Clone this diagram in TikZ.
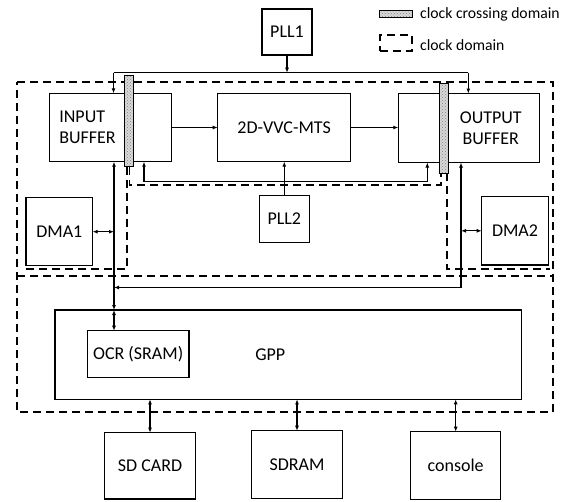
\documentclass[tikz,border=0pt]{standalone}
\usepackage{fontspec}
\setmainfont{Carlito}
\usetikzlibrary{arrows.meta,patterns}
\begin{document}
\begin{tikzpicture}[x=1pt,y=-1pt,
  txt/.style={font=\fontsize{18}{21}\selectfont},
  box/.style={draw, line width=1.2pt, inner sep=0pt, outer sep=0pt, txt},
  dom/.style={draw, line width=1.8pt, dash pattern=on 8pt off 5pt},
  conn/.style={line width=1.2pt},
  arr/.style={conn, -{Latex[length=5pt,width=4pt]}},
  arrb/.style={conn, {Latex[length=5pt,width=4pt]}-{Latex[length=5pt,width=4pt]}},
  xbar/.style={draw, line width=1pt, inner sep=0pt, outer sep=0pt, preaction={fill=gray!30}, pattern=crosshatch dots, pattern color=gray},
  lgd/.style={font=\fontsize{15.7}{18}\selectfont, anchor=west, inner sep=0pt}
]
\useasboundingbox (0,0) rectangle (572,501);

% clock domains (dashed)
\draw[dom] (17,82) -- (553,82) -- (553,412) -- (17,412) -- cycle;
\draw[dom] (17,276) -- (553,276);
\draw[dom] (126.7,166.7) -- (126.7,269) -- (22,269);
\draw[dom] (446.7,173.3) -- (446.7,269) -- (550,269);
\draw[dom] (129.5,166.7) -- (129.5,185) -- (441,185) -- (441,173.3);

% blocks
\node[box, minimum width=50pt, minimum height=46pt] (pll1) at (287,32) {PLL1};
\node[box, text width=102.4pt, align=left, inner xsep=10pt, minimum height=68.4pt] (inbuf) at (110.5,127.5) {INPUT\\BUFFER};
\node[box, minimum width=133pt, minimum height=68.4pt] (mts) at (284.2,127.5) {2D-VVC-MTS};
\node[box, minimum width=141pt, minimum height=69pt,
      label={[txt, align=center, xshift=22pt]center:OUTPUT\\BUFFER}] (outbuf) at (468.8,128) {};
\node[box, minimum width=50pt, minimum height=46.6pt] (pll2) at (284.3,219) {PLL2};
\node[box, minimum width=66.7pt, minimum height=68pt] (dma1) at (59.3,231.7) {DMA1};
\node[box, minimum width=66.6pt, minimum height=68.3pt] (dma2) at (515,230.8) {DMA2};
\node[box, minimum width=466.7pt, minimum height=89.3pt,
      label={[txt, xshift=-18pt]center:GPP}] (gpp) at (288.3,354.7) {};
\node[box, minimum width=101.7pt, minimum height=47pt] (ocr) at (138.2,354.2) {OCR (SRAM)};
\node[box, minimum width=91.2pt, minimum height=66.3pt] (sd) at (150,465.8) {SD CARD};
\node[box, minimum width=90.6pt, minimum height=67.6pt] (sdram) at (297,464.5) {SDRAM};
\node[box, minimum width=90pt, minimum height=67.6pt] (console) at (455.7,465.5) {console};

% clock crossing bars
\node[xbar, minimum width=9.4pt, minimum height=90.7pt] (bar1) at (129,121.3) {};
\node[xbar, minimum width=9.4pt, minimum height=90pt] (bar2) at (443.7,128.3) {};

% PLL1 distribution
\coordinate (clkL) at (113.5,72.7);
\coordinate (clkR) at (468.3,72.7);
\draw[conn] (clkL) -- (clkR);
\draw[arr] (pll1.south) -- (pll1.south |- clkL);
\draw[arr] (clkL) -- (clkL |- inbuf.north);
\draw[arr] (clkR) -- (clkR |- outbuf.north);

% data path
\draw[arr] (inbuf.east) -- (mts.west);
\draw[arr] (mts.east) -- (mts.east -| outbuf.west);

% PLL2 distribution
\draw[arr] (pll2.north) -- (pll2.north |- mts.south);
\coordinate (p2L) at (144,181.7);
\coordinate (p2R) at (427.3,181.7);
\draw[conn] (p2L) -- (p2R);
\draw[arr] (p2L) -- (p2L |- inbuf.south);
\draw[arr] (p2R) -- (p2R |- outbuf.south);

% buses
\coordinate (busL) at (114,287.5);
\coordinate (busR) at (461,287.5);
\draw[arrb] (busL |- inbuf.south) -- (busL |- gpp.north);
\draw[arrb] (busL |- gpp.north) -- (busL |- ocr.north);
\draw[arr] (busR) -- (busR |- outbuf.south);
\draw[arr] (busR) -- (busL);
\draw[arrb] (dma1.east) -- (dma1.east -| busL);
\draw[arrb] (dma2.west) -- (dma2.west -| busR);

% peripherals
\draw[arrb] (gpp.south -| sd.north) -- (sd.north);
\draw[arrb] (gpp.south -| sdram.north) -- (sdram.north);
\draw[arrb] (gpp.south -| console.north) -- (console.north);

% legend
\node[xbar, minimum width=33pt, minimum height=7pt] (lgx) at (395.5,13.5) {};
\node[lgd] (lgxt) at (420,14) {clock crossing domain};
\node[dom, minimum width=32pt, minimum height=16pt, inner sep=0pt] (lgdbox) at (396,43) {};
\node[lgd] (lgdt) at (420,45) {clock domain};
\end{tikzpicture}
\end{document}
